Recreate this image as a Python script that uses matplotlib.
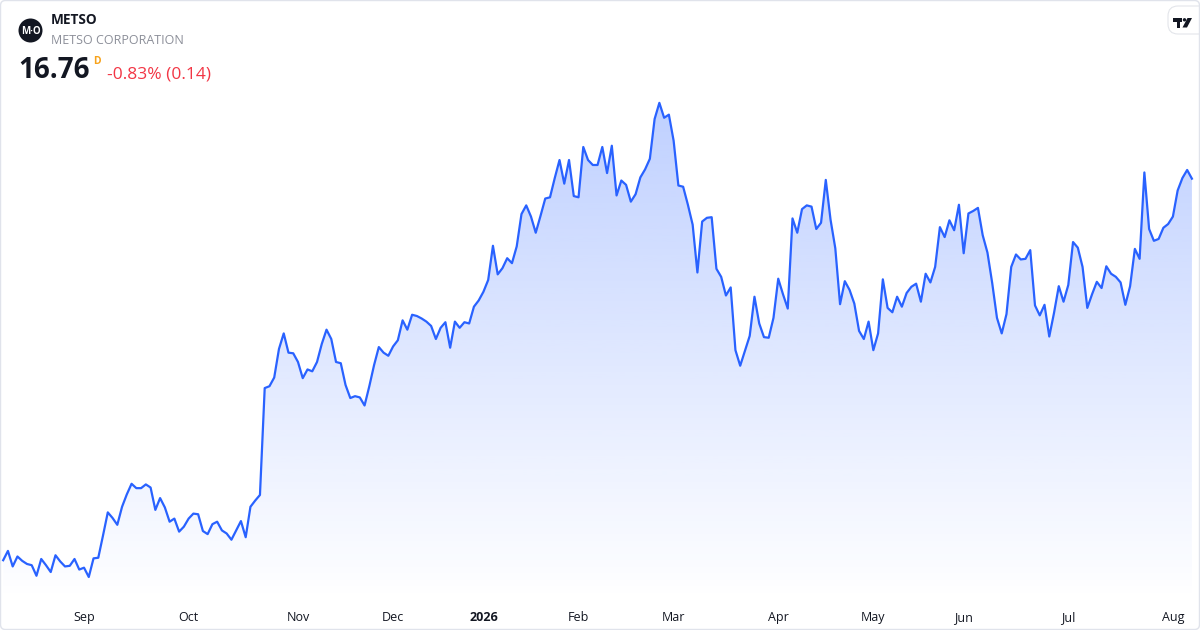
import numpy as np
import matplotlib.pyplot as plt
from matplotlib.patches import Circle, FancyBboxPatch, Polygon
from matplotlib.transforms import blended_transform_factory

plt.rcParams['font.family'] = ['Open Sans', 'DejaVu Sans']

# daily closes, Aug 2025 - Aug 2026
close = [
    10.62, 10.77, 10.52, 10.68, 10.61, 10.56, 10.54, 10.37, 10.64, 10.54,
    10.43, 10.70, 10.60, 10.52, 10.53, 10.64, 10.47, 10.50, 10.35, 10.65,
    10.66, 11.02, 11.39, 11.30, 11.19, 11.48, 11.68, 11.85, 11.78, 11.78,
    11.84, 11.79, 11.43, 11.62, 11.47, 11.24, 11.29, 11.08, 11.16, 11.29,
    11.37, 11.36, 11.09, 11.04, 11.20, 11.24, 11.10, 11.05, 10.95, 11.10,
    11.25, 10.99, 11.48, 11.58, 11.67, 13.39, 13.42, 13.56, 14.02, 14.27,
    13.96, 13.95, 13.81, 13.55, 13.69, 13.66, 13.81, 14.10, 14.33, 14.18,
    13.81, 13.79, 13.44, 13.23, 13.26, 13.24, 13.11, 13.42, 13.76, 14.05,
    13.96, 13.91, 14.06, 14.16, 14.48, 14.33, 14.57, 14.55, 14.51, 14.46,
    14.39, 14.18, 14.36, 14.45, 14.04, 14.46, 14.36, 14.45, 14.43, 14.70,
    14.80, 14.94, 15.13, 15.68, 15.22, 15.32, 15.48, 15.40, 15.67, 16.19,
    16.33, 16.15, 15.89, 16.16, 16.44, 16.46, 16.77, 17.06, 16.68, 17.06,
    16.48, 16.46, 17.27, 17.06, 16.98, 16.98, 17.27, 16.85, 17.29, 16.49,
    16.73, 16.66, 16.39, 16.51, 16.78, 16.91, 17.08, 17.72, 17.98, 17.74,
    17.79, 17.37, 16.65, 16.63, 16.34, 16.02, 15.25, 16.07, 16.13, 16.14,
    15.31, 15.18, 14.88, 15.01, 14.00, 13.75, 13.99, 14.23, 14.86, 14.43,
    14.21, 14.20, 14.52, 15.15, 14.90, 14.67, 16.12, 15.89, 16.27, 16.33,
    16.31, 15.95, 16.05, 16.74, 16.10, 15.64, 14.74, 15.11, 14.97, 14.75,
    14.31, 14.18, 14.46, 14.00, 14.27, 15.14, 14.68, 14.61, 14.86, 14.70,
    14.92, 15.02, 15.07, 14.78, 15.23, 15.09, 15.34, 15.98, 15.82, 16.09,
    15.93, 16.34, 15.56, 16.20, 16.24, 16.29, 15.85, 15.57, 15.08, 14.52,
    14.27, 14.58, 15.34, 15.54, 15.46, 15.47, 15.61, 14.72, 14.56, 14.73,
    14.22, 14.60, 15.03, 14.78, 15.05, 15.74, 15.65, 15.34, 14.68, 14.90,
    15.10, 15.00, 15.35, 15.23, 15.18, 15.09, 14.73, 15.03, 15.63, 15.47,
    16.86, 15.95, 15.76, 15.79, 15.97, 16.03, 16.15, 16.57, 16.77, 16.90,
    16.76,
]

# first trading day of each month (index into close)
tick_idx = [17, 39, 62, 82, 101, 121, 141, 163, 183, 202, 224, 246]
tick_labels = ['Sep', 'Oct', 'Nov', 'Dec', '2026', 'Feb', 'Mar', 'Apr',
               'May', 'Jun', 'Jul', 'Aug']

symbol = 'METSO'
company = 'METSO CORPORATION'
last_price = '16.76'
change_text = '-0.83% (0.14)'

W, H = 1200, 630
fig = plt.figure(figsize=(12, 6.3), dpi=100)
fig.patch.set_facecolor('white')


def px(x, y):
    return x / W, 1 - y / H


def dpx(pts):
    # pixel coords (from top-left) -> inches for dpi_scale_trans
    return [(a / 100, (H - b) / 100) for a, b in pts]


ax = fig.add_axes([0, 30 / H, 1, 600 / H])
ax.set_axis_off()

x = np.arange(len(close))
y = np.array(close)
ymin, ymax = 9.98, 19.635
ax.set_xlim(-0.67, 251.7)
ax.set_ylim(ymin, ymax)

line_col = '#2962ff'

# gradient fill under the line
poly = ax.fill_between(x, y, ymin, color='none', lw=0)
nrow = 300
grad = np.zeros((nrow, 1, 4))
grad[..., 0] = 41 / 255
grad[..., 1] = 98 / 255
grad[..., 2] = 1.0
grad[:, 0, 3] = np.linspace(0.0, 0.3, nrow)
img = ax.imshow(grad, extent=[x[0], x[-1], ymin, y.max()], aspect='auto',
                origin='lower', interpolation='bilinear', zorder=1)
img.set_clip_path(poly.get_paths()[0], transform=ax.transData)

ax.plot(x, y, color=line_col, lw=1.6, solid_joinstyle='round', zorder=2)

# month labels
trans = blended_transform_factory(ax.transData, fig.transFigure)
for i, lab in zip(tick_idx, tick_labels):
    fig.text(i, 1 - 617.5 / H, lab, transform=trans, ha='center', va='center',
             fontsize=9, color='#131722',
             fontweight='bold' if lab == '2026' else 'normal')

# header
fig.patches.append(Circle((30.5 / 100, (H - 30.5) / 100), 12 / 100,
                          transform=fig.dpi_scale_trans,
                          facecolor='#131722', edgecolor='none'))
fig.text(*px(30.5, 31), 'M·O', ha='center', va='center', fontsize=7,
         color='white', fontweight='bold')

fig.text(*px(51, 20), symbol, ha='left', va='center', fontsize=9.8,
         fontweight='bold', color='#131722')
fig.text(*px(51, 40.5), company, ha='left', va='center', fontsize=9,
         color='#8c8f99')
fig.text(*px(18.5, 71), last_price, ha='left', va='center', fontsize=20,
         fontweight='bold', color='#131722')
fig.text(*px(97, 61), 'D', ha='center', va='center', fontsize=7.5,
         fontweight='bold', color='#f7a21b')
fig.text(*px(107, 74.5), change_text, ha='left', va='center', fontsize=12.5,
         color='#f23645')

# TradingView badge, top right
fig.patches.append(FancyBboxPatch((1168 / 100, (H - 34) / 100), 42 / 100, 28 / 100,
                                  boxstyle='round,pad=0,rounding_size=0.1',
                                  transform=fig.dpi_scale_trans, facecolor='white',
                                  edgecolor='#e3e5ea', lw=0.8))
fig.patches.append(Polygon(dpx([(1173, 18), (1182, 18), (1182, 21.5), (1180, 21.5),
                                (1180, 27.5), (1176.5, 27.5), (1176.5, 21.5), (1173, 21.5)]),
                           closed=True, transform=fig.dpi_scale_trans,
                           facecolor='#131722', edgecolor='none'))
fig.patches.append(Circle((1184.5 / 100, (H - 19.8) / 100), 1.7 / 100,
                          transform=fig.dpi_scale_trans, facecolor='#131722',
                          edgecolor='none'))
fig.patches.append(Polygon(dpx([(1187.5, 18), (1192, 18), (1187, 27.5), (1182.5, 27.5)]),
                           closed=True, transform=fig.dpi_scale_trans,
                           facecolor='#131722', edgecolor='none'))

# outer frame
fig.patches.append(FancyBboxPatch((0.5 / 100, 0.5 / 100), 11.99, 6.29,
                                  boxstyle='round,pad=0,rounding_size=0.05',
                                  transform=fig.dpi_scale_trans, facecolor='none',
                                  edgecolor='#e0e3eb', lw=1))

fig.savefig('out.png', dpi=100)
